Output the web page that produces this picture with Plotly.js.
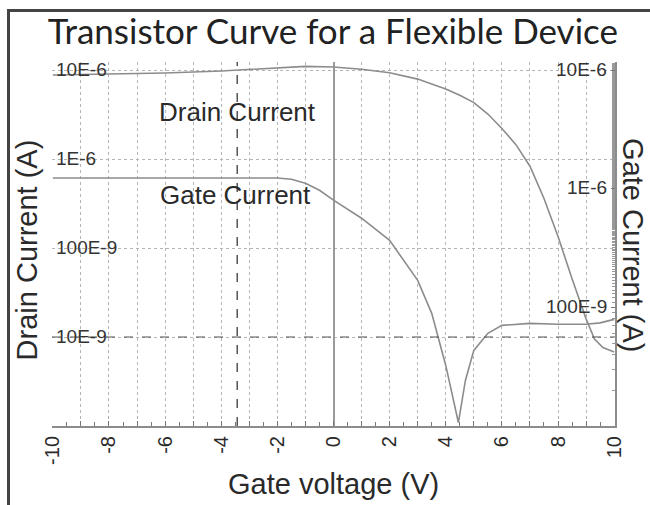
<!DOCTYPE html>
<html>
<head>
<meta charset="utf-8">
<script src="https://cdn.plot.ly/plotly-3.0.1.min.js"></script>
<style>
  html, body { margin: 0; padding: 0; background: #fff; }
  #wrap { position: relative; width: 650px; height: 505px; overflow: hidden; }
  #frame { position: absolute; left: 7px; top: 9px; width: 660px; height: 520px;
           border-left: 3px solid #444; border-top: 3px solid #444; pointer-events: none; }
  #chart { position: absolute; left: 0; top: 0; width: 650px; height: 505px; }
</style>
</head>
<body>
<div id="wrap">
  <div id="chart"></div>
  <div id="frame"></div>
</div>
<script>
// Gate voltage (V)
const drainV = [-10, -8, -6, -4, -2, -1, 0, 1, 2, 3, 4, 4.5, 5, 5.5, 6, 6.5, 7, 7.5, 8, 8.5, 9, 9.3, 9.6, 10];
// Drain current (A), left axis
const drainI = [8.8e-6, 9.0e-6, 9.25e-6, 9.75e-6, 1.05e-5, 1.1e-5, 1.08e-5, 1.02e-5, 9.3e-6, 7.9e-6,
                6.1e-6, 5.2e-6, 4.3e-6, 3.2e-6, 2.2e-6, 1.45e-6, 8.3e-7, 3.6e-7, 1.35e-7, 4.5e-8,
                1.6e-8, 9.5e-9, 7.6e-9, 6.8e-9];
const gateV = [-10, -6, -2, -1.5, -1, -0.5, 0, 1, 2, 3, 3.5, 4, 4.45, 4.7, 5, 5.5, 6, 7, 8, 9, 9.5, 10];
// Gate current (A), right axis
const gateI = [1.23e-6, 1.23e-6, 1.23e-6, 1.2e-6, 1.11e-6, 9.7e-7, 8.0e-7, 5.64e-7, 3.67e-7, 1.69e-7,
               8.9e-8, 3.24e-8, 1.07e-8, 2.42e-8, 4.34e-8, 6.04e-8, 7.05e-8, 7.33e-8, 7.2e-8, 7.2e-8,
               7.4e-8, 7.92e-8];
const xTickVals = [-10, -9, -8, -7, -6, -5, -4, -3, -2, -1, 0, 1, 2, 3, 4, 5, 6, 7, 8, 9, 10];
const xTickText = ['-10', '', '-8', '', '-6', '', '-4', '', '-2', '', '0', '', '2', '', '4', '', '6', '', '8', '', '10'];
const leftTickVals = [1e-5, 1e-6, 1e-7, 1e-8];
const leftTickText = ['10E-6', '1E-6', '100E-9', '10E-9'];
const rightTickVals = [1e-5, 1e-6, 1e-7];
const rightTickText = ['10E-6', '1E-6', '100E-9'];
const markerVoltage = [-3.43];
const refCurrent = [1e-8];

const lineCol = '#8c8c8c';
const textCol = '#2a2a2a';
const font = 'Liberation Sans, Arial, sans-serif';

const traces = [
  { x: drainV, y: drainI, type: 'scatter', mode: 'lines', yaxis: 'y', name: 'Drain Current',
    line: { color: lineCol, width: 1.6 } },
  { x: gateV, y: gateI, type: 'scatter', mode: 'lines', yaxis: 'y2', name: 'Gate Current',
    line: { color: lineCol, width: 1.6 } }
];

const tickAnn = [];
leftTickVals.forEach((v, i) => tickAnn.push({
  text: leftTickText[i], xref: 'paper', yref: 'y', x: 0, y: Math.log10(v), xanchor: 'left', yanchor: 'middle',
  xshift: 2, yshift: 1, showarrow: false, font: { size: 19, color: '#333', family: font }
}));
rightTickVals.forEach((v, i) => tickAnn.push({
  text: rightTickText[i], xref: 'paper', yref: 'y2', x: 1, y: Math.log10(v), xanchor: 'right', yanchor: 'middle',
  xshift: -6, yshift: 1, showarrow: false, font: { size: 19, color: '#333', family: font }
}));

const layout = {
  width: 650, height: 505,
  margin: { l: 52, r: 35, t: 62, b: 79 },
  paper_bgcolor: '#fff', plot_bgcolor: '#fff',
  showlegend: false,
  font: { family: font, color: textCol },
  title: { text: 'Transistor Curve for a Flexible Device', x: 0.512, xanchor: 'center', y: 0.937, yanchor: 'middle',
           font: { family: 'Lato, Open Sans, sans-serif', size: 35, color: '#222' } },
  xaxis: {
    range: [-10.03, 10.03], tickvals: xTickVals, ticktext: xTickText, tickangle: -90,
    tickfont: { size: 20, color: textCol, family: font },
    showgrid: true, gridcolor: '#b5b5b5', griddash: 'dot', gridwidth: 1,
    minor: { dtick: 0.5, showgrid: false, ticks: 'inside', ticklen: 4, tickcolor: '#777' },
    ticks: 'inside', ticklen: 5, tickcolor: '#777',
    zeroline: true, zerolinecolor: '#9a9a9a', zerolinewidth: 2,
    showline: true, linecolor: '#8c8c8c', linewidth: 2
  },
  yaxis: {
    type: 'log', range: [-9.0, -4.91],
    tickvals: leftTickVals, showticklabels: false, ticks: '',
    showgrid: true, gridcolor: '#b5b5b5', griddash: 'dot', gridwidth: 1,
    zeroline: false, showline: false
  },
  yaxis2: {
    type: 'log', range: [-8.0, -4.932], overlaying: 'y', side: 'right',
    tickvals: rightTickVals, showticklabels: false, ticks: 'inside', ticklen: 4, tickcolor: '#777',
    minor: { ticks: 'inside', ticklen: 3, tickcolor: '#999' },
    showgrid: false, zeroline: false, showline: true, linecolor: '#8c8c8c', linewidth: 2
  },
  shapes: [
    { type: 'line', xref: 'x', yref: 'paper', x0: markerVoltage[0], x1: markerVoltage[0], y0: 0, y1: 1,
      line: { color: '#555', width: 1.5, dash: 'dash' } },
    { type: 'line', xref: 'paper', yref: 'y', x0: 0, x1: 1, y0: refCurrent[0], y1: refCurrent[0],
      line: { color: '#555', width: 1.2, dash: 'dash' } }
  ],
  annotations: tickAnn.concat([
    { text: 'Drain Current', xref: 'x', yref: 'paper', x: -3.43, y: 0.909, showarrow: false,
      font: { size: 26, color: textCol, family: font } },
    { text: 'Gate Current', xref: 'x', yref: 'paper', x: -3.5, y: 0.635, showarrow: false,
      font: { size: 26, color: textCol, family: font } },
    { text: 'Drain Current (A)', xref: 'paper', yref: 'paper', x: -0.044, y: 0.483, showarrow: false,
      textangle: -90, xanchor: 'center', yanchor: 'middle',
      font: { size: 29, color: textCol, family: font } },
    { text: 'Gate Current (A)', xref: 'paper', yref: 'paper', x: 1.032, y: 0.497, showarrow: false,
      textangle: 90, xanchor: 'center', yanchor: 'middle',
      font: { size: 29, color: textCol, family: font } },
    { text: 'Gate voltage (V)', xref: 'paper', yref: 'paper', x: 0.5, y: -0.158, showarrow: false,
      xanchor: 'center', yanchor: 'middle',
      font: { size: 29, color: textCol, family: font } }
  ])
};

Plotly.newPlot('chart', traces, layout, { displayModeBar: false, staticPlot: true });
</script>
</body>
</html>
